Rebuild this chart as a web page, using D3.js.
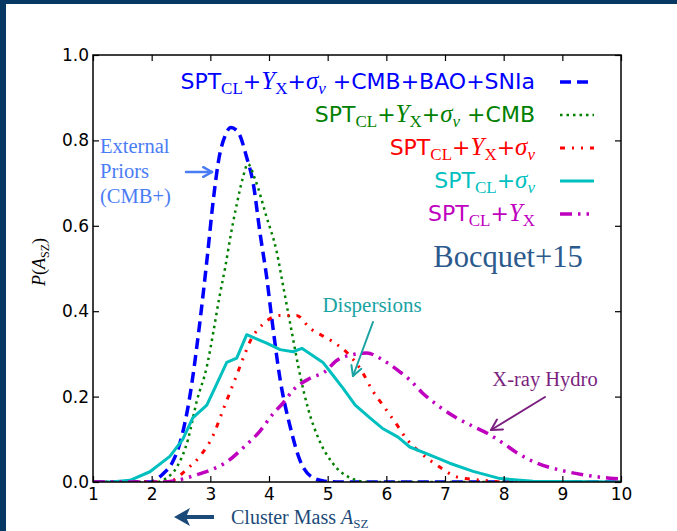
<!DOCTYPE html>
<html><head><meta charset="utf-8">
<script src="https://cdn.jsdelivr.net/npm/d3@7"></script>
<style>
html,body{margin:0;padding:0;background:#fff;}
svg{display:block;}
</style></head>
<body>
<script>
// ---------------- data ----------------
const xTicks = [1,2,3,4,5,6,7,8,9,10];
const yTicks = [0,0.2,0.4,0.6,0.8,1.0];
const yTickLabels = ["0.0","0.2","0.4","0.6","0.8","1.0"];

const blueX = [1,2.0,2.1,2.2,2.35,2.5,2.65,2.8,2.95,3.05,3.15,3.25,3.35,3.47,3.62,3.73,3.85,3.96,4.05,4.19,4.36,4.53,4.75,4.95,5.2,10];
const blueY = [0,0,0.008,0.02,0.045,0.10,0.20,0.35,0.53,0.66,0.76,0.81,0.83,0.82,0.76,0.70,0.58,0.48,0.38,0.24,0.13,0.05,0.01,0.002,0,0];

const greenX = [1,2.1,2.26,2.43,2.62,2.77,2.94,3.05,3.15,3.25,3.35,3.45,3.55,3.64,3.76,3.96,4.13,4.24,4.39,4.53,4.67,4.85,5.08,5.38,5.7,10];
const greenY = [0,0,0.01,0.035,0.10,0.19,0.27,0.35,0.43,0.50,0.58,0.65,0.71,0.745,0.71,0.62,0.54,0.46,0.35,0.25,0.17,0.10,0.045,0.01,0,0];

const redX = [1,2.3,2.43,2.6,2.82,3.05,3.22,3.42,3.56,3.68,3.9,4.19,4.47,4.7,5.07,5.35,5.58,5.76,5.94,6.15,6.35,6.57,6.91,7.2,7.65,8.0,10];
const redY = [0,0,0.01,0.03,0.06,0.11,0.17,0.24,0.29,0.33,0.37,0.39,0.39,0.36,0.33,0.30,0.26,0.215,0.18,0.14,0.10,0.07,0.035,0.012,0.004,0,0];

const cyanX = [1,1.3,1.63,1.97,2.31,2.53,2.7,2.94,3.11,3.28,3.45,3.62,3.96,4.19,4.41,4.56,4.92,5.09,5.26,5.47,5.72,5.93,6.2,6.4,6.8,7.08,7.48,7.94,8.5,10];
const cyanY = [0,0,0.004,0.024,0.06,0.10,0.15,0.18,0.23,0.28,0.29,0.345,0.325,0.31,0.305,0.313,0.28,0.25,0.22,0.18,0.15,0.126,0.105,0.082,0.06,0.044,0.025,0.008,0.002,0];

const magX = [1,2.2,2.43,2.77,3.0,3.28,3.56,3.85,4.07,4.24,4.41,4.70,4.95,5.16,5.38,5.67,5.89,6.03,6.23,6.4,6.62,6.91,7.2,7.48,7.72,7.99,8.23,8.57,8.96,9.35,9.81,10];
const magY = [0,0,0.004,0.017,0.028,0.047,0.08,0.12,0.16,0.185,0.215,0.243,0.258,0.285,0.297,0.302,0.29,0.278,0.258,0.239,0.208,0.176,0.15,0.13,0.114,0.091,0.068,0.044,0.028,0.017,0.009,0.007];

// ---------------- setup ----------------
const W = 677, H = 531;
const svg = d3.select("body").append("svg").attr("width", W).attr("height", H);
svg.append("rect").attr("width", W).attr("height", H).attr("fill", "#fff");
svg.append("rect").attr("x",0).attr("y",0).attr("width",W).attr("height",4).attr("fill","#073763");
svg.append("rect").attr("x",0).attr("y",0).attr("width",6).attr("height",H).attr("fill","#073763");

const x = d3.scaleLinear().domain([1,10]).range([93,621]);
const y = d3.scaleLinear().domain([0,1]).range([482,55]);

const SANS = "'DejaVu Sans', sans-serif";
const SERIF = "'Liberation Serif', 'Times New Roman', serif";

// ---------------- curves ----------------
const series = [
  {xs: blueX,  ys: blueY,  color: "#0000ff", w: 3.5, dash: "11,6", curve: d3.curveMonotoneX},
  {xs: greenX, ys: greenY, color: "#008000", w: 2.5, dash: "2.5,4", curve: d3.curveMonotoneX},
  {xs: redX,   ys: redY,   color: "#ff0000", w: 3,   dash: "5,7,2,7,2,7", curve: d3.curveMonotoneX},
  {xs: cyanX,  ys: cyanY,  color: "#00bfbf", w: 3,   dash: null, curve: d3.curveLinear},
  {xs: magX,   ys: magY,   color: "#bf00bf", w: 3.5, dash: "12,6,2.5,6,2.5,6", curve: d3.curveMonotoneX}
];

svg.append("defs").append("clipPath").attr("id","plotclip")
  .append("rect").attr("x", x(1)).attr("y", y(1)).attr("width", x(10)-x(1)).attr("height", y(0)-y(1));

const plot = svg.append("g").attr("clip-path","url(#plotclip)");
series.forEach(s => {
  const pts = s.xs.map((v,i) => [v, s.ys[i]]);
  const line = d3.line().x(d => x(d[0])).y(d => y(d[1])).curve(s.curve);
  plot.append("path").attr("d", line(pts))
    .attr("fill","none").attr("stroke", s.color).attr("stroke-width", s.w)
    .attr("stroke-dasharray", s.dash).attr("stroke-linejoin","round");
});

// ---------------- axes ----------------
const tickLen = 6;
const axB = svg.append("g").attr("transform", `translate(0,${y(0)})`)
  .call(d3.axisBottom(x).tickValues(xTicks).tickSize(-tickLen).tickPadding(6).tickFormat(d3.format("d")));
const axT = svg.append("g").attr("transform", `translate(0,${y(1)})`)
  .call(d3.axisTop(x).tickValues(xTicks).tickSize(-tickLen).tickFormat(""));
const axL = svg.append("g").attr("transform", `translate(${x(1)},0)`)
  .call(d3.axisLeft(y).tickValues(yTicks).tickSize(-tickLen).tickPadding(4).tickFormat((d,i) => yTickLabels[i]));
const axR = svg.append("g").attr("transform", `translate(${x(10)},0)`)
  .call(d3.axisRight(y).tickValues(yTicks).tickSize(-tickLen).tickFormat(""));
[axB, axT, axL, axR].forEach(a => {
  a.select(".domain").remove();
  a.selectAll(".tick line").attr("stroke","#000").attr("stroke-width",1.2);
  a.selectAll("text").attr("font-family", SANS).attr("font-size", 17).attr("fill","#000");
});
svg.append("rect").attr("x", x(1)).attr("y", y(1)).attr("width", x(10)-x(1)).attr("height", y(0)-y(1))
  .attr("fill","none").attr("stroke","#000").attr("stroke-width",1.5);

// ---------------- legend ----------------
const legendRows = [
  {color:"#0000ff", parts:[["SPT","s"],["CL","sub"],["+","s"],["Y","i"],["X","sub"],["+","s"],["σ","i"],["v","subi"],[" +CMB+BAO+SNIa","s"]]},
  {color:"#008000", parts:[["SPT","s"],["CL","sub"],["+","s"],["Y","i"],["X","sub"],["+","s"],["σ","i"],["v","subi"],[" +CMB","s"]]},
  {color:"#ff0000", parts:[["SPT","s"],["CL","sub"],["+","s"],["Y","i"],["X","sub"],["+","s"],["σ","i"],["v","subi"]]},
  {color:"#00bfbf", parts:[["SPT","s"],["CL","sub"],["+","s"],["σ","i"],["v","subi"]]},
  {color:"#bf00bf", parts:[["SPT","s"],["CL","sub"],["+","s"],["Y","i"],["X","sub"]]}
];
const legBase = [89,122,155,188,221];
legendRows.forEach((row, ri) => {
  const t = svg.append("text").attr("x", 535).attr("y", legBase[ri]).attr("text-anchor","end")
    .attr("fill", row.color).attr("font-size", 22).attr("font-family", SANS);
  let shifted = false;
  row.parts.forEach(p => {
    const ts = t.append("tspan").text(p[0]);
    if (p[1] === "s") { ts.attr("font-family", SANS).style("white-space","pre"); }
    else if (p[1] === "i") { ts.attr("font-family", SERIF).attr("font-style","italic").attr("font-size", 25); }
    else { ts.attr("font-family", SERIF).attr("font-size", 17).attr("font-style", p[1]==="subi" ? "italic":"normal"); }
    if (p[1].startsWith("sub")) { ts.attr("dy", 5); shifted = true; }
    else if (shifted) { ts.attr("dy", -5); shifted = false; }
  });
  t.attr("xml:space","preserve");
  const s = series[ri];
  svg.append("line").attr("x1",560).attr("x2",594).attr("y1",legBase[ri]-7).attr("y2",legBase[ri]-7)
    .attr("stroke", s.color).attr("stroke-width", s.w).attr("stroke-dasharray", s.dash);
});

// ---------------- annotations ----------------
function arrow(x1,y1,x2,y2,color,w,head){
  svg.append("line").attr("x1",x1).attr("y1",y1).attr("x2",x2).attr("y2",y2)
    .attr("stroke",color).attr("stroke-width",w).attr("stroke-linecap","round");
  const a = Math.atan2(y2-y1,x2-x1), L = head, sp = 0.5;
  [a+Math.PI-sp, a+Math.PI+sp].forEach(b => {
    svg.append("line").attr("x1",x2).attr("y1",y2)
      .attr("x2",x2+L*Math.cos(b)).attr("y2",y2+L*Math.sin(b))
      .attr("stroke",color).attr("stroke-width",w).attr("stroke-linecap","round");
  });
}

const extColor = "#4a7cf5";
["External","Priors","(CMB+)"].forEach((s,i) => {
  svg.append("text").attr("x",100).attr("y",153+i*25).text(s)
    .attr("font-family",SERIF).attr("font-size",20.5).attr("fill",extColor);
});
arrow(186,172,212,172,extColor,2.5,10);

const dispColor = "#1aa3a3";
svg.append("text").attr("x",372).attr("y",312).attr("text-anchor","middle").text("Dispersions")
  .attr("font-family",SERIF).attr("font-size",21).attr("fill",dispColor);
arrow(373,322,353,376,dispColor,2,11);

const xrColor = "#7b1f80";
svg.append("text").attr("x",545).attr("y",386).attr("text-anchor","middle").text("X-ray Hydro")
  .attr("font-family",SERIF).attr("font-size",20.5).attr("fill",xrColor);
arrow(545,397,491,430,xrColor,2,12);

svg.append("text").attr("x",508).attr("y",267).attr("text-anchor","middle").text("Bocquet+15")
  .attr("font-family",SERIF).attr("font-size",30.5).attr("fill","#2c5a8c");

// y label
const yl = svg.append("text").attr("transform","translate(45,262) rotate(-90)").attr("text-anchor","middle")
  .attr("font-family",SERIF).attr("font-size",18).attr("fill","#000");
yl.append("tspan").attr("font-style","italic").text("P");
yl.append("tspan").text("(");
yl.append("tspan").attr("font-style","italic").text("A");
yl.append("tspan").attr("font-size",12).attr("dy",4).text("SZ");
yl.append("tspan").attr("dy",-4).text(")");

// bottom annotation
const cmColor = "#1b4a78";
svg.append("line").attr("x1",214).attr("y1",517).attr("x2",186).attr("y2",517)
  .attr("stroke",cmColor).attr("stroke-width",4);
svg.append("path").attr("d", d3.line()([[174,517],[190,508],[186,517],[190,526]])+"Z").attr("fill",cmColor);
const cm = svg.append("text").attr("x",231).attr("y",524).attr("font-family",SERIF)
  .attr("font-size",20).attr("fill",cmColor);
cm.append("tspan").text("Cluster Mass ");
cm.append("tspan").attr("font-style","italic").text("A");
cm.append("tspan").attr("font-size",13).attr("dy",4).text("SZ");
</script>
</body></html>
